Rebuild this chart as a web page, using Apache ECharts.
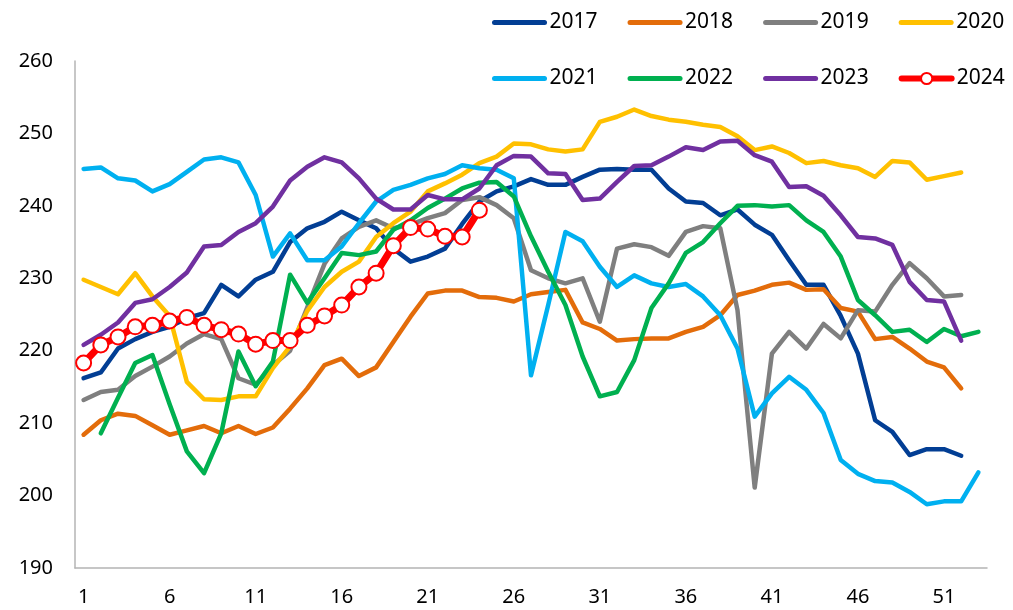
<!DOCTYPE html>
<html>
<head>
<meta charset="utf-8">
<script src="https://cdn.jsdelivr.net/npm/echarts@6/dist/echarts.min.js"></script>
<style>
  html, body { margin: 0; padding: 0; background: #ffffff; }
  #chart { width: 1013px; height: 610px; }
</style>
</head>
<body>
<div id="chart"></div>
<script>
// Week numbers along the x axis
const weeks = ['1','2','3','4','5','6','7','8','9','10','11','12','13','14','15','16','17','18','19','20',
  '21','22','23','24','25','26','27','28','29','30','31','32','33','34','35','36','37','38','39','40',
  '41','42','43','44','45','46','47','48','49','50','51','52','53'];

// Weekly values per year
const y2017 = [216.2,217,220.3,221.6,222.6,223.3,224.5,225.2,229.1,227.5,229.8,230.9,235,236.9,237.8,239.2,238,236.9,234.1,232.3,
  233,234.1,237.5,240.6,242,242.7,243.7,242.9,242.9,244,245,245.1,245,245,242.4,240.6,240.4,238.7,239.5,237.4,
  236,232.5,229.1,229.1,224.8,219.6,210.4,208.8,205.6,206.4,206.4,205.5];
const y2018 = [208.4,210.4,211.3,211,209.7,208.4,209,209.6,208.6,209.6,208.5,209.4,212,214.8,218,218.9,216.5,217.7,221.2,224.7,
  227.9,228.3,228.3,227.4,227.3,226.8,227.8,228.1,228.4,223.9,223,221.4,221.6,221.7,221.7,222.6,223.3,224.9,227.7,228.3,
  229.1,229.4,228.4,228.5,225.9,225.4,221.6,221.9,220.3,218.5,217.7,214.8];
const y2019 = [213.2,214.3,214.6,216.5,217.8,219.2,221,222.3,221.6,216.2,215.3,218,220,226,232,235.5,237.1,238,236.9,237.4,
  238.3,239,240.8,241.2,240.1,238.3,231.1,230,229.3,230,224,234.1,234.7,234.3,233.1,236.4,237.2,236.9,225.6,201.1,
  219.6,222.6,220.3,223.7,221.7,225.6,225.4,229.1,232.1,230,227.5,227.7];
const y2020 = [229.8,228.8,227.8,230.7,227.5,224.8,215.7,213.3,213.2,213.7,213.7,217.6,220.6,225.5,228.8,230.9,232.3,235.7,237.6,239.2,
  242,243.1,244.3,245.9,246.8,248.6,248.5,247.8,247.5,247.8,251.6,252.3,253.3,252.4,251.9,251.6,251.2,250.9,249.6,247.7,
  248.2,247.3,245.9,246.2,245.6,245.2,244,246.2,246,243.6,244.1,244.6];
const y2021 = [245.1,245.3,243.8,243.5,242,243,244.7,246.4,246.7,246,241.5,233,236.2,232.5,232.5,234.4,237.6,240.6,242.2,242.9,
  243.8,244.4,245.6,245.2,245,243.8,216.6,226.3,236.4,235.1,231.6,228.8,230.4,229.3,228.8,229.2,227.5,224.9,220.3,210.9,
  214.1,216.4,214.6,211.4,204.9,203,202,201.8,200.5,198.8,199.2,199.2,203.2];
const y2022 = [null,208.6,213.5,218.3,219.4,212.6,206.1,203.1,208.6,219.9,215.1,218.5,230.5,226.6,230,233.5,233.2,233.7,236.7,238,
  239.7,241,242.4,243.2,243.3,241.3,235.8,230.9,226.3,219.2,213.7,214.3,218.7,225.9,229.3,233.5,235,237.6,240,240.1,
  239.9,240.1,238,236.4,233,227,224.9,222.6,222.9,221.2,223,222,222.6];
const y2023 = [220.8,222.2,223.9,226.6,227.1,228.8,230.8,234.4,234.6,236.4,237.6,239.9,243.5,245.4,246.7,246,243.8,241,239.5,239.5,
  241.5,240.9,240.9,242.4,245.6,246.9,246.8,244.5,244.4,240.8,241,243.3,245.5,245.6,246.8,248.1,247.7,248.9,249,247,
  246.1,242.6,242.7,241.4,238.7,235.7,235.5,234.6,229.5,227,226.8,221.4];
const y2024 = [218.3,220.8,221.9,223.3,223.5,224.1,224.6,223.5,222.9,222.3,220.9,221.4,221.4,223.5,224.8,226.3,228.8,230.7,234.5,237,
  236.8,235.8,235.7,239.4];

const years = ['2017','2018','2019','2020','2021','2022','2023','2024'];
const values = [y2017, y2018, y2019, y2020, y2021, y2022, y2023, y2024];
const colors = ['#023e94','#e36c0a','#7f7f7f','#ffc000','#00b0f0','#00b050','#7030a0','#ff0000'];
const LATEST = '2024';

const FONT = '"Noto Sans", "Open Sans", sans-serif';

const series = years.map((name, i) => {
  const isLatest = name === LATEST;
  return {
    name: name,
    type: 'line',
    data: values[i],
    connectNulls: false,
    smooth: false,
    symbol: isLatest ? 'circle' : 'none',
    symbolSize: isLatest ? 15 : 0,
    showSymbol: isLatest,
    showAllSymbol: true,
    z: isLatest ? 10 : 2 + i * 0.1,
    lineStyle: { color: colors[i], width: isLatest ? 7 : 4.5, join: 'round', cap: 'round' },
    itemStyle: isLatest
      ? { color: '#ffffff', borderColor: colors[i], borderWidth: 2 }
      : { color: colors[i] },
    emphasis: { disabled: true },
    animation: false
  };
});

// Legend entries: plain lines for past years, line with an open marker for the latest one
function legendItems(names) {
  return names.map(name => name === LATEST
    ? { name: name, lineStyle: { width: 6, cap: 'round' } }
    : { name: name, itemStyle: { opacity: 0 }, lineStyle: { width: 5, cap: 'round' } });
}

const legendBase = {
  orient: 'horizontal',
  left: 487,
  itemWidth: 50,
  itemHeight: 14,
  itemGap: 30,
  textStyle: { fontSize: 21, color: '#000000', fontFamily: FONT },
  selectedMode: false
};

const chart = echarts.init(document.getElementById('chart'), null, { renderer: 'canvas' });
chart.setOption({
  animation: false,
  backgroundColor: '#ffffff',
  color: colors,
  grid: { left: 75, right: 26, top: 61, bottom: 42, containLabel: false },
  legend: [
    Object.assign({}, legendBase, { top: 7, data: legendItems(years.slice(0, 4)) }),
    Object.assign({}, legendBase, { top: 63, data: legendItems(years.slice(4)) })
  ],
  xAxis: {
    type: 'category',
    data: weeks,
    boundaryGap: true,
    axisLine: { show: true, lineStyle: { color: '#b4b4b4', width: 1.5 } },
    axisTick: { show: false },
    axisLabel: { interval: 4, margin: 19, fontSize: 20, color: '#000000', fontFamily: FONT },
    splitLine: { show: false }
  },
  yAxis: {
    type: 'value',
    min: 190,
    max: 260,
    interval: 10,
    axisLine: { show: true, lineStyle: { color: '#b4b4b4', width: 1.5 } },
    axisTick: { show: false },
    axisLabel: { margin: 22, fontSize: 20, color: '#000000', fontFamily: FONT },
    splitLine: { show: false }
  },
  series: series
});
</script>
</body>
</html>
